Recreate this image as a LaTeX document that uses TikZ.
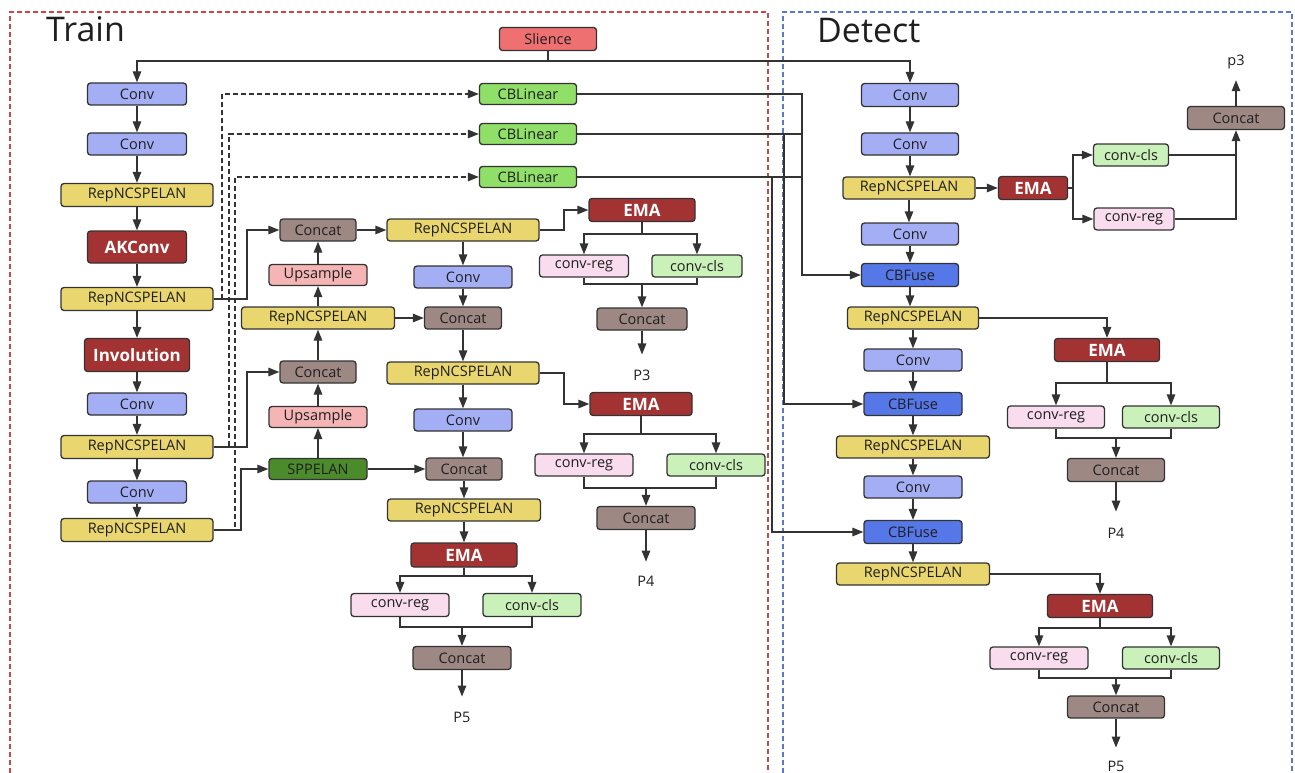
\documentclass[tikz,border=0pt]{standalone}
\usepackage{fontspec}
\setmainfont{Open Sans}
\usetikzlibrary{arrows.meta}
\definecolor{convc}{HTML}{A4AEF4}
\definecolor{repc}{HTML}{EAD66E}
\definecolor{redc}{HTML}{A33333}
\definecolor{linc}{HTML}{8FDF68}
\definecolor{catc}{HTML}{9E8884}
\definecolor{upc}{HTML}{F5B5B5}
\definecolor{sppc}{HTML}{4B8B2B}
\definecolor{slc}{HTML}{EE7070}
\definecolor{regc}{HTML}{F9DDEF}
\definecolor{clsc}{HTML}{CBF1BB}
\definecolor{fusec}{HTML}{5677E8}
\definecolor{edgec}{HTML}{333333}
\definecolor{trainc}{HTML}{C8484A}
\definecolor{detc}{HTML}{5A78D0}
\begin{document}
\begin{tikzpicture}[x=1pt,y=-1pt,
 box/.style={draw=edgec, line width=1.3pt, rounded corners=3pt, inner sep=0pt, minimum height=22pt, font=\fontsize{14.5}{16}\selectfont, text=black!88},
 wd/.style={minimum width=#1pt},
 ht/.style={minimum height=#1pt},
 sconv/.style={box, fill=convc, wd=99},
 srep/.style={box, fill=repc, wd=152},
 sred/.style={box, fill=redc, text=white, font=\fontsize{17}{19}\selectfont\bfseries, ht=23},
 slin/.style={box, fill=linc, wd=97, ht=21},
 scat/.style={box, fill=catc, wd=76},
 sups/.style={box, fill=upc, wd=98, ht=21},
 sspp/.style={box, fill=sppc, wd=98, ht=21},
 ssl/.style={box, fill=slc, wd=97, ht=23},
 sreg/.style={box, fill=regc, wd=98},
 scls/.style={box, fill=clsc, wd=98},
 sfuse/.style={box, fill=fusec, wd=98, ht=23},
 ln/.style={draw=edgec, line width=1.3pt},
 arr/.style={ln, -{Triangle[length=11pt,width=8.5pt]}},
 dsh/.style={ln, dash pattern=on 5pt off 3pt, -{Triangle[length=11pt,width=8.5pt]}},
 lab/.style={font=\fontsize{14.5}{16}\selectfont, text=black!88, inner sep=0pt},
 ttl/.style={font=\fontsize{34}{38}\selectfont, text=black!88, inner sep=0pt, anchor=base west}
]
\useasboundingbox (0,0) rectangle (1295,773);
% frames
\draw[trainc, line width=1.2pt, dash pattern=on 5pt off 3pt] (10,773) -- (10,12) -- (768,12) -- (768,773);
\draw[detc, line width=1.2pt, dash pattern=on 5pt off 3pt] (783,773) -- (783,12) -- (1292,12) -- (1292,773);
\node[ttl] (ttrain) at (46,42) {Train};
\node[ttl] (tdet) at (817,43) {Detect};

% ---------- Train ----------
\node[ssl] (sl) at (548,39) {Slience};
\node[sconv] (a1) at (137,94) {Conv};
\node[sconv] (a2) at (137,144) {Conv};
\node[srep, ht=23] (a3) at (137,195) {RepNCSPELAN};
\node[sred, wd=99, ht=32] (a4) at (137,247) {AKConv};
\node[srep, ht=23] (a5) at (137,299) {RepNCSPELAN};
\node[sred, wd=105, ht=33] (a6) at (137,355) {Involution};
\node[sconv] (a7) at (137,404) {Conv};
\node[srep, ht=23] (a8) at (137,447) {RepNCSPELAN};
\node[sconv] (a9) at (137,492) {Conv};
\node[srep, ht=23] (a10) at (137,530) {RepNCSPELAN};

\node[slin] (l1) at (528,94) {CBLinear};
\node[slin] (l2) at (528,134) {CBLinear};
\node[slin] (l3) at (528,177) {CBLinear};

\node[scat] (b1) at (318,230) {Concat};
\node[sups] (b2) at (318,275) {Upsample};
\node[srep, wd=153] (b3) at (318,318) {RepNCSPELAN};
\node[scat] (b4) at (318,372) {Concat};
\node[sups] (b5) at (318,417) {Upsample};
\node[sspp] (b6) at (318,469) {SPPELAN};

\node[srep] (c1) at (463,230) {RepNCSPELAN};
\node[sconv, wd=98] (c2) at (463,277) {Conv};
\node[scat, wd=77] (c3) at (463,318) {Concat};
\node[srep] (c4) at (463,373) {RepNCSPELAN};
\node[sconv, wd=98] (c5) at (463,420) {Conv};
\node[scat] (c6) at (464,469) {Concat};
\node[srep, wd=153] (c7) at (464,510) {RepNCSPELAN};
\node[sred, wd=106, ht=24] (c8) at (464,555) {EMA};
\node[sreg, ht=23] (c9) at (400,605) {conv-reg};
\node[scls, ht=23] (c10) at (532,605) {conv-cls};
\node[scat, wd=98, ht=23] (c11) at (462,658) {Concat};
\node[lab] (c12) at (462,717) {P5};

\node[sred, wd=106] (d1) at (642,210) {EMA};
\node[sreg, wd=89] (d2) at (584,266) {conv-reg};
\node[scls, wd=90] (d3) at (697,266) {conv-cls};
\node[scat, wd=90] (d4) at (642,319) {Concat};
\node[lab] (d5) at (642,375) {P3};

\node[sred, wd=102] (e1) at (641,404) {EMA};
\node[sreg] (e2) at (584,465) {conv-reg};
\node[scls] (e3) at (716,465) {conv-cls};
\node[scat, wd=98, ht=23] (e4) at (646,518) {Concat};
\node[lab] (e5) at (646,581) {P4};

% ---------- Detect ----------
\node[sconv, wd=97, ht=23] (f1) at (910,95) {Conv};
\node[sconv, wd=97] (f2) at (910,144) {Conv};
\node[srep, wd=132] (f3) at (909,188) {RepNCSPELAN};
\node[sconv, wd=97] (f4) at (910,234) {Conv};
\node[sfuse, wd=97] (f5) at (910,275) {CBFuse};
\node[srep, wd=131] (f6) at (913,318) {RepNCSPELAN};
\node[sconv, wd=98] (f7) at (913,360) {Conv};
\node[sfuse] (f8) at (913,404) {CBFuse};
\node[srep, wd=153] (f9) at (913,447) {RepNCSPELAN};
\node[sconv, wd=98] (f10) at (913,487) {Conv};
\node[sfuse] (f11) at (913,532) {CBFuse};
\node[srep, wd=153] (f12) at (913,574) {RepNCSPELAN};

\node[sred, wd=69] (g1) at (1033,188) {EMA};
\node[scls, wd=75] (g2) at (1131,155) {conv-cls};
\node[sreg, wd=80] (g3) at (1134,219) {conv-reg};
\node[scat, wd=97, ht=23] (g4) at (1236,118) {Concat};
\node[lab] (g5) at (1236,62) {p3};

\node[sred, wd=105] (h1) at (1107,350) {EMA};
\node[sreg, wd=97] (h2) at (1056,417) {conv-reg};
\node[scls, wd=97] (h3) at (1171,417) {conv-cls};
\node[scat, wd=97, ht=23] (h4) at (1116,470) {Concat};
\node[lab] (h5) at (1116,533) {P4};

\node[sred, wd=105] (i1) at (1100,606) {EMA};
\node[sreg] (i2) at (1039,658) {conv-reg};
\node[scls, wd=97] (i3) at (1171,658) {conv-cls};
\node[scat, wd=97] (i4) at (1116,707) {Concat};
\node[lab] (i5) at (1116,766) {P5};

% ---------- connectors ----------
\coordinate (s0) at (548,61);
\draw[ln] (sl.south) -- (s0);
\draw[arr] (s0) -| (a1.north);
\draw[arr] (s0) -| (f1.north);

\foreach \u/\v in {a1/a2,a2/a3,a3/a4,a4/a5,a5/a6,a6/a7,a7/a8,a8/a9,a9/a10,
  c1/c2,c2/c3,c3/c4,c4/c5,c5/c6,c6/c7,c7/c8,
  f1/f2,f2/f3,f3/f4,f4/f5,f5/f6,f6/f7,f7/f8,f8/f9,f9/f10,f10/f11,f11/f12}
  \draw[arr] (\u.south) -- (\u.south |- \v.north);
\foreach \u/\v in {b6/b5,b5/b4,b4/b3,b3/b2,b2/b1}
  \draw[arr] (\u.north) -- (\u.north |- \v.south);

% dashed to CBLinear
\draw[dsh] (a5.east) -- (222,299) |- (l1.west);
\draw[dsh] (a8.east) -- (229,447) |- (l2.west);
\draw[dsh] (a10.east) -- (235,530) |- (l3.west);
% solid to neck
\draw[arr] (a5.east) -- (247,299) |- (b1.west);
\draw[arr] (a8.east) -- (247,447) |- (b4.west);
\draw[arr] (a10.east) -- (241,530) |- (b6.west);
\draw[arr] (b1) -- (c1);
\draw[arr] (b3) -- (c3);
\draw[arr] (b6) -- (c6);

% heads, Train
\draw[arr] (c1.east) -- (564,230) |- (d1.west);
\draw[ln] (d1.south) -- (642,234);
\draw[arr] (642,234) -| (d2.north);
\draw[arr] (642,234) -| (d3.north);
\draw[ln] (d2.south) |- (642,284) -| (d3.south);
\draw[arr] (642,284) -- (d4.north);
\draw[arr, shorten >=15pt] (d4.south) -- (d5.north);

\draw[arr] (c4.east) -- (564,373) |- (e1.west);
\draw[ln] (e1.south) -- (641,434);
\draw[arr] (641,434) -| (e2.north);
\draw[arr] (641,434) -| (e3.north);
\draw[ln] (e2.south) |- (646,488) -| (e3.south);
\draw[arr] (646,488) -- (e4.north);
\draw[arr, shorten >=14pt] (e4.south) -- (e5.north);

\draw[ln] (c8.south) -- (464,576);
\draw[arr] (464,576) -| (c9.north);
\draw[arr] (464,576) -| (c10.north);
\draw[ln] (c9.south) |- (462,627) -| (c10.south);
\draw[arr] (462,627) -- (c11.north);
\draw[arr, shorten >=15pt] (c11.south) -- (c12.north);

% CBLinear -> CBFuse
\draw[arr] (l1.east) -- (802,94) |- (f5.west);
\draw[ln] (l2.east) -- (802,134);
\draw[ln] (l3.east) -- (802,177);
\draw[arr] (l2.east) -- (784,134) |- (f8.west);
\draw[arr] (l3.east) -- (772,177) |- (f11.west);

% heads, Detect
\draw[arr] (f3) -- (g1);
\draw[ln] (g1.east) -- (1073,188);
\draw[arr] (1073,188) |- (g2.west);
\draw[arr] (1073,188) |- (g3.west);
\draw[ln] (g2.east) -- (g2.east -| g4.south);
\draw[arr] (g3.east) -| (g4.south);
\draw[arr, shorten >=11pt] (g4.north) -- (g5.south);

\draw[arr] (f6.east) -| (h1.north);
\draw[ln] (h1.south) -- (1107,383);
\draw[arr] (1107,383) -| (h2.north);
\draw[arr] (1107,383) -| (h3.north);
\draw[ln] (h2.south) |- (1116,438) -| (h3.south);
\draw[arr] (1116,438) -- (h4.north);
\draw[arr, shorten >=16pt] (h4.south) -- (h5.north);

\draw[arr] (f12.east) -| (i1.north);
\draw[ln] (i1.south) -- (1100,628);
\draw[arr] (1100,628) -| (i2.north);
\draw[arr] (1100,628) -| (i3.north);
\draw[ln] (i2.south) |- (1116,678) -| (i3.south);
\draw[arr] (1116,678) -- (i4.north);
\draw[arr, shorten >=13pt] (i4.south) -- (i5.north);
\end{tikzpicture}
\end{document}
